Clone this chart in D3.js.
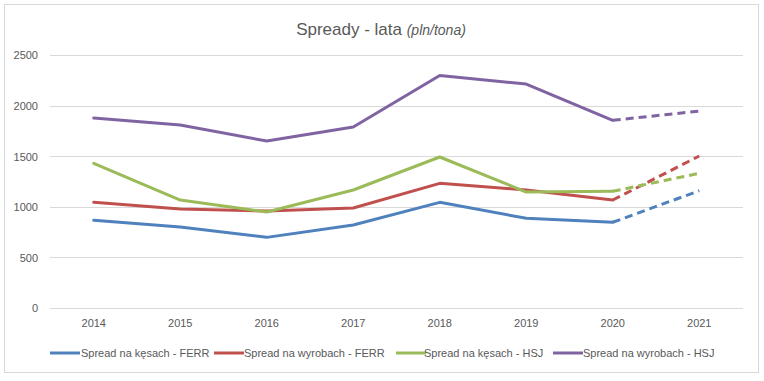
<!DOCTYPE html>
<html><head><meta charset="utf-8">
<script src="https://cdn.jsdelivr.net/npm/d3@7"></script>
<style>
html,body{margin:0;padding:0;background:#fff;}
svg{display:block;font-family:"Liberation Sans",Arial,sans-serif;}
</style></head>
<body><svg id="c" width="764" height="381"></svg>
<script>
const years = ["2014","2015","2016","2017","2018","2019","2020","2021"];
const yTicks = [0,500,1000,1500,2000,2500];
const seriesNames = ["Spread na kęsach - FERR","Spread na wyrobach - FERR","Spread na kęsach - HSJ","Spread na wyrobach - HSJ"];
const seriesColors = ["#4f81bd","#c0504d","#9bbb59","#8064a2"];
const kesachFERR   = [866, 800, 698, 820, 1044, 886, 847, 1159];
const wyrobachFERR = [1044, 978, 958, 988, 1232, 1166, 1067, 1502];
const kesachHSJ    = [1430, 1067, 949, 1166, 1492, 1146, 1153, 1331];
const wyrobachHSJ  = [1877, 1808, 1650, 1789, 2297, 2213, 1855, 1946];
const forecastFrom = "2020";
const allSeries = [kesachFERR, wyrobachFERR, kesachHSJ, wyrobachHSJ];

const svg = d3.select("#c");
const textColor = "#595959", gridColor = "#d9d9d9";

// chart border
svg.append("rect").attr("x",4.5).attr("y",4.5).attr("width",754).attr("height",368)
  .attr("fill","#fff").attr("stroke","#d9d9d9").attr("stroke-width",1);

const x = d3.scaleBand().domain(years).range([50.5, 742.5]);
const y = d3.scaleLinear().domain([0,2500]).range([308, 55]);
const cx = d => x(d) + x.bandwidth()/2;

// gridlines
svg.append("g").selectAll("line").data(yTicks).join("line")
  .attr("x1",50).attr("x2",743)
  .attr("y1",d=>Math.round(y(d))+0.5).attr("y2",d=>Math.round(y(d))+0.5)
  .attr("stroke",gridColor).attr("stroke-width",1);

// y axis labels
const yAxis = d3.axisLeft(y).tickValues(yTicks).tickFormat(d3.format("d")).tickSize(0).tickPadding(0);
const gy = svg.append("g").attr("transform","translate(38,0)").call(yAxis);
gy.select(".domain").remove();
gy.selectAll("text").attr("fill",textColor).attr("font-size","11px").attr("dy","0.35em");

// x axis labels
const xAxis = d3.axisBottom(x).tickSize(0).tickPadding(0);
const gx = svg.append("g").attr("transform","translate(0,319)").call(xAxis);
gx.select(".domain").remove();
gx.selectAll("text").attr("fill",textColor).attr("font-size","11px");

// lines
const line = d3.line().x(d=>cx(d.year)).y(d=>y(d.v));
const fi = years.indexOf(forecastFrom);
allSeries.forEach((vals,i)=>{
  const pts = years.map((yr,j)=>({year:yr,v:vals[j]}));
  svg.append("path").datum(pts.slice(0,fi+1)).attr("d",line)
    .attr("fill","none").attr("stroke",seriesColors[i]).attr("stroke-width",3)
    .attr("stroke-linejoin","round").attr("stroke-linecap","round");
  svg.append("path").datum(pts.slice(fi)).attr("d",line)
    .attr("fill","none").attr("stroke",seriesColors[i]).attr("stroke-width",3)
    .attr("stroke-dasharray","8,5").attr("stroke-linecap","butt");
});

// title
const t = svg.append("text").attr("x",381).attr("y",35).attr("text-anchor","middle")
  .attr("fill",textColor).attr("font-size","17px");
t.append("tspan").text("Spready - lata ");
t.append("tspan").attr("font-style","italic").attr("font-size","14px").text("(pln/tona)");

// legend
const legLine = [50,214,396,553];
const legText = [81,244,424,583];
const lg = svg.append("g");
seriesNames.forEach((n,i)=>{
  lg.append("line").attr("x1",legLine[i]).attr("x2",legLine[i]+30)
    .attr("y1",353).attr("y2",353).attr("stroke",seriesColors[i]).attr("stroke-width",3);
  lg.append("text").attr("x",legText[i]).attr("y",353).attr("dy","0.35em")
    .attr("fill",textColor).attr("font-size","11px").text(n);
});
</script></body></html>
